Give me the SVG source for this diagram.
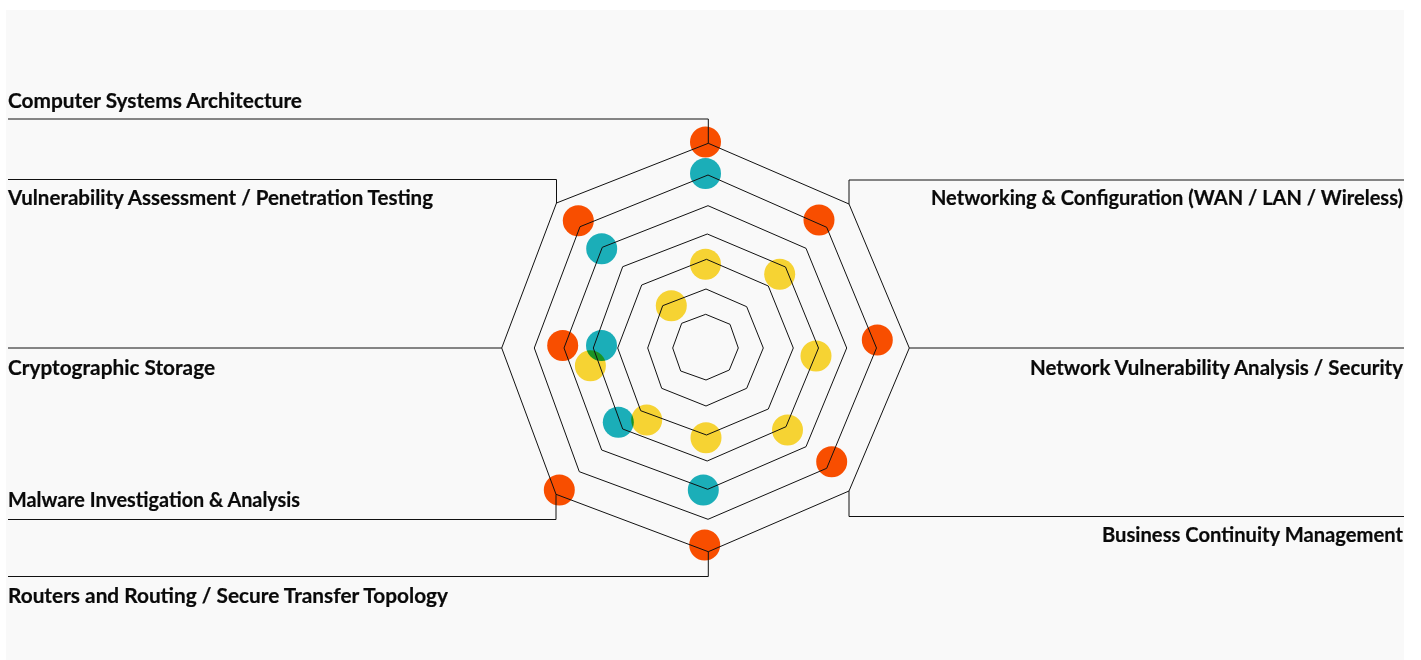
<svg xmlns="http://www.w3.org/2000/svg" width="1421" height="660" viewBox="0 0 1421 660">
  <style>
    .bg { fill: #f9f9f9; }
    .ring { fill: none; stroke: #111; stroke-width: 1; stroke-linejoin: miter; }
    .conn { fill: none; stroke: #111; stroke-width: 1; }
    .dot { mix-blend-mode: multiply; }
    .red { fill: #fe5000; }
    .teal { fill: #1bb2bd; }
    .yellow { fill: #fcd834; }
    .lbl { font-family: Lato, "Open Sans", "Liberation Sans", sans-serif; font-weight: 700; font-size: 20px; fill: #0a0a0a; stroke: #0a0a0a; stroke-width: 0.2; }
  </style>
  <rect class="bg" x="6" y="10" width="1398" height="650"/>

  <g id="dots">
    <circle class="dot red" cx="705.5" cy="142" r="15.5"/>
    <circle class="dot red" cx="578.3" cy="220.7" r="15.5"/>
    <circle class="dot red" cx="562.7" cy="345.5" r="15.5"/>
    <circle class="dot red" cx="559.3" cy="490" r="15.5"/>
    <circle class="dot red" cx="704.7" cy="545" r="15.5"/>
    <circle class="dot red" cx="831.7" cy="461.7" r="15.5"/>
    <circle class="dot red" cx="877.3" cy="340" r="15.5"/>
    <circle class="dot red" cx="819" cy="220" r="15.5"/>

    <circle class="dot teal" cx="705.5" cy="173.5" r="15.5"/>
    <circle class="dot teal" cx="601.7" cy="248.7" r="15.5"/>
    <circle class="dot teal" cx="601.5" cy="345.5" r="15.5"/>
    <circle class="dot teal" cx="618.3" cy="422.3" r="15.5"/>
    <circle class="dot teal" cx="703.3" cy="490" r="15.5"/>

    <circle class="dot yellow" cx="705.5" cy="264.2" r="15.5"/>
    <circle class="dot yellow" cx="779.7" cy="274.3" r="15.5"/>
    <circle class="dot yellow" cx="671.3" cy="305.7" r="15.5"/>
    <circle class="dot yellow" cx="816" cy="356" r="15.5"/>
    <circle class="dot yellow" cx="787.5" cy="430" r="15.5"/>
    <circle class="dot yellow" cx="706" cy="437.7" r="15.5"/>
    <circle class="dot yellow" cx="646.7" cy="420" r="15.5"/>
    <circle class="dot yellow" cx="590.4" cy="365.7" r="15.5"/>
  </g>

  <g id="rings">
    <polygon class="ring" points="708.3,143.3 849,204 909.3,348 849,491 708.3,551.7 556,494.3 501.7,348 556.5,203"/>
    <polygon class="ring" points="708,175 826.7,227.3 876.5,348 826.7,468.3 708,519.3 579.3,471.7 534.3,348 580,226.7"/>
    <polygon class="ring" points="708,205.7 806,248.3 846.7,348 806,446.7 707.7,489.3 601.7,450 564,348 602.3,247.3"/>
    <polygon class="ring" points="707.3,234 785.5,267 818.5,348 786,426.7 707.2,461 622.7,429 593.3,348 622.7,266.7"/>
    <polygon class="ring" points="706.5,259.3 768.3,286 793.3,348 768.3,409 706.5,435 640.7,410.7 617.7,348 641.7,285"/>
    <polygon class="ring" points="706,289 746.7,306.7 763.3,348 746.7,388.3 706,406 661.7,388.3 647.7,348 662.7,305.7"/>
    <polygon class="ring" points="705.7,314.3 730,324.3 738.3,348 729.3,370 706,380 680.7,371 672.7,348 681.7,323.3"/>
  </g>

  <g id="connectors">
    <polyline class="conn" points="8,119 708.3,119 708.3,143.3"/>
    <polyline class="conn" points="8,179.5 556.5,179.5 556.5,203"/>
    <polyline class="conn" points="1404,180 849,180 849,204"/>
    <polyline class="conn" points="8,348 501.7,348"/>
    <polyline class="conn" points="909.3,348 1404,348"/>
    <polyline class="conn" points="8,519.5 556,519.5 556,494.3"/>
    <polyline class="conn" points="1404,516.5 849,516.5 849,491"/>
    <polyline class="conn" points="8,576.5 708.3,576.5 708.3,551.7"/>
  </g>

  <g id="node-computer-systems"><text class="lbl" x="8" y="108" textLength="294" lengthAdjust="spacingAndGlyphs">Computer Systems Architecture</text></g>
  <g id="node-vulnerability-assessment"><text class="lbl" x="8" y="205" textLength="425" lengthAdjust="spacingAndGlyphs">Vulnerability Assessment / Penetration Testing</text></g>
  <g id="node-networking"><text class="lbl" x="931" y="205" textLength="472" lengthAdjust="spacingAndGlyphs">Networking &amp; Configuration (WAN / LAN / Wireless)</text></g>
  <g id="node-cryptographic"><text class="lbl" x="8" y="375" textLength="207" lengthAdjust="spacingAndGlyphs">Cryptographic Storage</text></g>
  <g id="node-network-vulnerability"><text class="lbl" x="1030" y="375" textLength="373" lengthAdjust="spacingAndGlyphs">Network Vulnerability Analysis / Security</text></g>
  <g id="node-malware"><text class="lbl" x="8" y="507" textLength="292" lengthAdjust="spacingAndGlyphs">Malware Investigation &amp; Analysis</text></g>
  <g id="node-business-continuity"><text class="lbl" x="1102" y="542" textLength="301" lengthAdjust="spacingAndGlyphs">Business Continuity Management</text></g>
  <g id="node-routers"><text class="lbl" x="8" y="603" textLength="440" lengthAdjust="spacingAndGlyphs">Routers and Routing / Secure Transfer Topology</text></g>
</svg>
